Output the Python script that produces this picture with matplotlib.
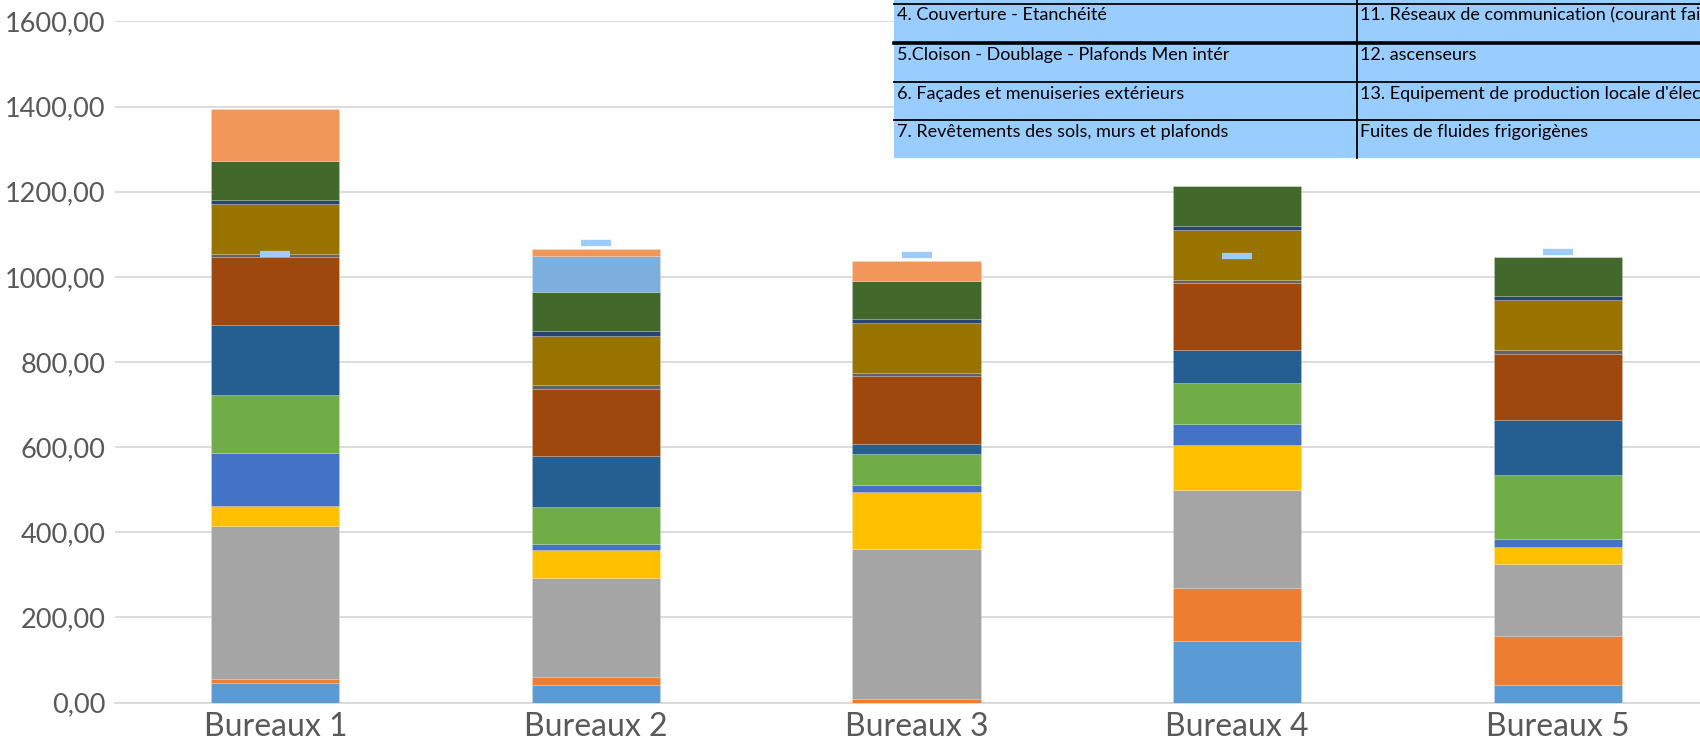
import matplotlib
matplotlib.use("Agg")
import matplotlib.pyplot as plt
from matplotlib.patches import Rectangle
from matplotlib.lines import Line2D
import numpy as np

# ---- data -----------------------------------------------------------------
categories = ["Bureaux 1", "Bureaux 2", "Bureaux 3", "Bureaux 4", "Bureaux 5"]

lots = [
    "1. VRD",
    "2. Fondations et infrastructure",
    "3. Superstructure - Maçonnerie",
    "4. Couverture - Etanchéité",
    "5.Cloison - Doublage - Plafonds Men intér",
    "6. Façades et menuiseries extérieurs",
    "7. Revêtements des sols, murs et plafonds",
    "8. CVC",
    "9. Installations sanitaires",
    "10. Réseaux d'énergie (courant fort)",
    "11. Réseaux de communication (courant faible)",
    "12. ascenseurs",
    "13. Equipement de production locale d'électricité",
    "Fuites de fluides frigorigènes",
]

vrd            = [46.7, 41.3, 0.0, 145.5, 42.0]
fondations     = [8.0, 19.5, 7.5, 123.0, 115.0]
superstructure = [360.6, 232.4, 353.8, 230.0, 169.0]
couverture     = [47.0, 66.0, 133.0, 106.0, 39.0]
cloisons       = [124.0, 12.6, 17.0, 51.0, 20.0]
facades        = [136.0, 88.0, 72.0, 95.0, 149.0]
revetements    = [165.0, 120.0, 25.0, 77.0, 129.0]
cvc            = [159.0, 158.0, 159.0, 158.0, 157.0]
sanitaires     = [8.0, 8.0, 7.0, 8.0, 8.0]
courant_fort   = [117.0, 116.0, 118.0, 116.0, 117.0]
courant_faible = [10.0, 12.0, 10.0, 11.0, 10.0]
ascenseurs     = [90.0, 90.0, 89.0, 92.0, 92.0]
production     = [0.0, 86.0, 0.0, 0.0, 0.0]
fuites         = [123.0, 16.5, 47.0, 0.0, 0.0]

seuil = [1053.0, 1080.0, 1051.0, 1049.0, 1058.0]

yticks = [0, 200, 400, 600, 800, 1000, 1200, 1400, 1600]

series = [vrd, fondations, superstructure, couverture, cloisons, facades,
          revetements, cvc, sanitaires, courant_fort, courant_faible,
          ascenseurs, production, fuites]

colors = ["#5B9BD5", "#ED7D31", "#A5A5A5", "#FFC000", "#4472C4", "#70AD47",
          "#255E91", "#9E480E", "#636363", "#997300", "#264478", "#43682B",
          "#7CAFDD", "#F1975A"]

# ---- figure ---------------------------------------------------------------
W, H = 1700, 744
fig = plt.figure(figsize=(W / 100, H / 100), dpi=100)
plt.rcParams["font.family"] = ["Lato", "DejaVu Sans"]

ax_left, ax_right = 115, 1718
ax_bottom, ax_top = 702.6, 21.5
ax = fig.add_axes([ax_left / W, (H - ax_bottom) / H,
                   (ax_right - ax_left) / W, (ax_bottom - ax_top) / H])

x = np.arange(len(categories))
bottom = np.zeros(len(categories))
for name, vals, col in zip(lots, series, colors):
    vals = np.asarray(vals)
    ax.bar(x, vals, width=0.4, bottom=bottom, color=col, label=name,
           edgecolor=(1, 1, 1, 0.18), linewidth=0.6, zorder=3)
    bottom += vals

ax.plot(x, seuil, linestyle="none", marker="_", markersize=22,
        markeredgewidth=4.5, color="#9DCBFC", zorder=5)

ax.set_xlim(-0.5, 4.5)
ax.set_ylim(0, 1600)
ax.set_yticks(yticks)
ax.set_yticklabels([f"{v},00" for v in yticks])
ax.set_xticks(x)
ax.set_xticklabels(categories)
ax.yaxis.grid(True, color="#D9D9D9", linewidth=1.3, zorder=0)
ax.set_axisbelow(True)
for side in ["top", "right", "left"]:
    ax.spines[side].set_visible(False)
ax.spines["bottom"].set_color("#D9D9D9")
ax.spines["bottom"].set_linewidth(1.3)
ax.tick_params(axis="y", length=0, pad=7, labelsize=19.5, labelcolor="#595959")
ax.tick_params(axis="x", length=0, pad=7, labelsize=23, labelcolor="#595959")

# ---- lot table overlay (upper right) -------------------------------------
def fx(px):
    return px / W


def fy(py):
    return 1 - py / H


tbl_left, tbl_div, tbl_right = 894, 1357, 1720
row_lines = [3.5, 43.0, 82.0, 120.0]
tbl_bottom = 157.5
fig.patches.append(Rectangle((fx(tbl_left), fy(tbl_bottom)),
                             fx(tbl_right - tbl_left), fy(0) - fy(tbl_bottom),
                             transform=fig.transFigure, facecolor="#99CCFF",
                             edgecolor="none", zorder=10))
for i, yl in enumerate(row_lines):
    lw = 2.6 if i == 1 else 1.3
    fig.add_artist(Line2D([fx(tbl_left), fx(tbl_right)], [fy(yl), fy(yl)],
                          transform=fig.transFigure, color="black",
                          linewidth=lw, zorder=11))
fig.add_artist(Line2D([fx(tbl_div), fx(tbl_div)], [fy(0), fy(tbl_bottom)],
                      transform=fig.transFigure, color="black",
                      linewidth=1.3, zorder=11))

left_rows = lots[3:7]
right_rows = lots[10:14]
for i, yl in enumerate(row_lines):
    ty = yl + 12
    fig.text(fx(tbl_left + 3), fy(ty), left_rows[i], ha="left", va="center",
             fontsize=13, color="black", zorder=12)
    fig.text(fx(tbl_div + 3), fy(ty), right_rows[i], ha="left", va="center",
             fontsize=13, color="black", zorder=12)

fig.savefig("out.png", dpi=100)
